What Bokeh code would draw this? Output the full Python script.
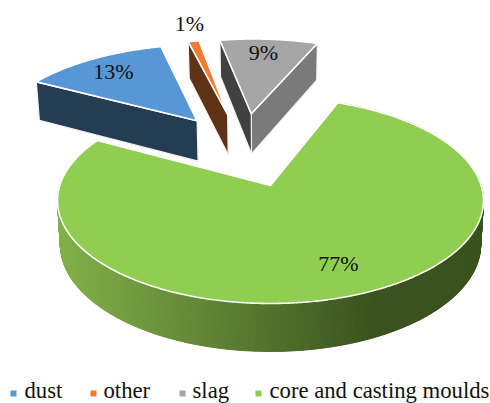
import numpy as np
from bokeh.embed import file_html
from bokeh.models import Range1d
from bokeh.plotting import figure
from bokeh.resources import INLINE
from bokeh.core.properties import value

# Waste shares, in percent, clockwise from the dust slice
categories = ["dust", "other", "slag", "core and casting moulds"]
shares = [13, 1, 9, 77]

top_colors = ["#5797D5", "#ED7D31", "#A5A5A5", "#8FCE50"]
start_wall_colors = ["#243D52", "#5F3115", "#414141", "#5A7F30"]
end_wall_colors = ["#243D52", "#5F3115", "#7A7A7A", "#5A7F30"]

# Rim gradient of the large slice, left to right
rim_left = np.array([130, 176, 72])
rim_right = np.array([58, 82, 30])
rim_left_x, rim_right_x = 60, 372

# Perspective projection of the exploded pie
CENTER_X, CENTER_Y = 270, 185
SCALE_X, SCALE_Y = 210.7, 100.8
PERSPECTIVE = 0.1456
EXPLODE_X, EXPLODE_Y = 0.40, 0.41
FAR_SLICE_RADIUS = 1.05
DEPTH = 43.2
DEPTH_PERSPECTIVE = 0.10
DEPTH_TAPER = 0.013
FIRST_ANGLE = -61.5


def project(x, y, z=0.0):
    x, y = np.asarray(x, float), np.asarray(y, float)
    den = 1 + PERSPECTIVE * y
    sx = CENTER_X + SCALE_X * x / den * (1 - DEPTH_TAPER * z)
    sy = CENTER_Y - SCALE_Y * y / den + DEPTH * z / (1 + DEPTH_PERSPECTIVE * y)
    return sx, sy


edges = FIRST_ANGLE + np.concatenate([[0], np.cumsum(shares)]) * 360 / sum(shares)
mids = np.radians((edges[:-1] + edges[1:]) / 2)
# Offsets are measured from the large slice, which sits at the projection centre
off_x = EXPLODE_X * (np.sin(mids) - np.sin(mids[-1]))
off_y = EXPLODE_Y * (np.cos(mids) - np.cos(mids[-1]))


def slice_outline(i):
    a = np.radians(np.arange(edges[i], edges[i + 1] + 0.25, 0.5))
    a[-1] = np.radians(edges[i + 1])
    r = 1.0 if i == len(shares) - 1 else FAR_SLICE_RADIUS
    return off_x[i] + r * np.sin(a), off_y[i] + r * np.cos(a)


p = figure(
    width=490, height=403, output_backend="svg", toolbar_location=None,
    x_range=Range1d(0, 490), y_range=Range1d(403, 0),
    x_axis_type=None, y_axis_type=None, min_border=0,
    outline_line_color=None, background_fill_color="white",
    border_fill_color="white",
)
p.grid.visible = False

draw_order = [3, 0, 1, 2]
for i in draw_order:
    rx, ry = slice_outline(i)
    ax, ay = off_x[i], off_y[i]
    if i == 3:
        # Curved outer wall, shaded in narrow strips
        xs, ys, cols = [], [], []
        for k in range(len(rx) - 1):
            u0, v0 = project(rx[k:k + 2], ry[k:k + 2], 0)
            u1, v1 = project(rx[k:k + 2], ry[k:k + 2], 1)
            xs.append([u0[0], u0[1], u1[1], u1[0]])
            ys.append([v0[0], v0[1], v1[1], v1[0]])
            t = np.clip((u0.mean() - rim_left_x) / (rim_right_x - rim_left_x), 0, 1)
            c = (1 - t) * rim_left + t * rim_right
            cols.append("#%02x%02x%02x" % tuple(int(round(q)) for q in c))
        p.patches(xs, ys, fill_color=cols, line_color=cols, line_width=1)
    else:
        # Radial walls: a wall that faces away ends up beneath the top face
        for (ex, ey), col in (((rx[-1], ry[-1]), end_wall_colors[i]),
                              ((rx[0], ry[0]), start_wall_colors[i])):
            u0, v0 = project([ax, ex], [ay, ey], 0)
            u1, v1 = project([ax, ex], [ay, ey], 1)
            p.patch([u0[0], u0[1], u1[1], u1[0]], [v0[0], v0[1], v1[1], v1[0]],
                    fill_color=col, line_color="#F2F2F2", line_width=1.2)
    tx, ty = project(np.r_[ax, rx], np.r_[ay, ry], 0)
    p.patch(tx, ty, fill_color=top_colors[i], line_color="white", line_width=1.6)

# Percentage labels
label_x = [113, 189, 263, 338]
label_y = [71, 23, 52, 263]
p.text(label_x, label_y, text=[f"{s}%" for s in shares],
       text_font=value("Liberation Serif"), text_font_size="22px",
       text_color="#111111", text_align="center", text_baseline="middle")

# Legend row
marker_x = [13, 93, 182, 258]
text_x = [24, 103, 192, 269]
marker_y = 393
text_y = 390
p.scatter(marker_x, [marker_y] * 4, marker="square", size=6,
          fill_color=top_colors, line_color=None)
p.text(text_x, [text_y] * 4, text=categories,
       text_font=value("Liberation Serif"), text_font_size="22.7px",
       text_color="#111111", text_align="left", text_baseline="middle")

open("out.html", "w").write(file_html(p, INLINE))
